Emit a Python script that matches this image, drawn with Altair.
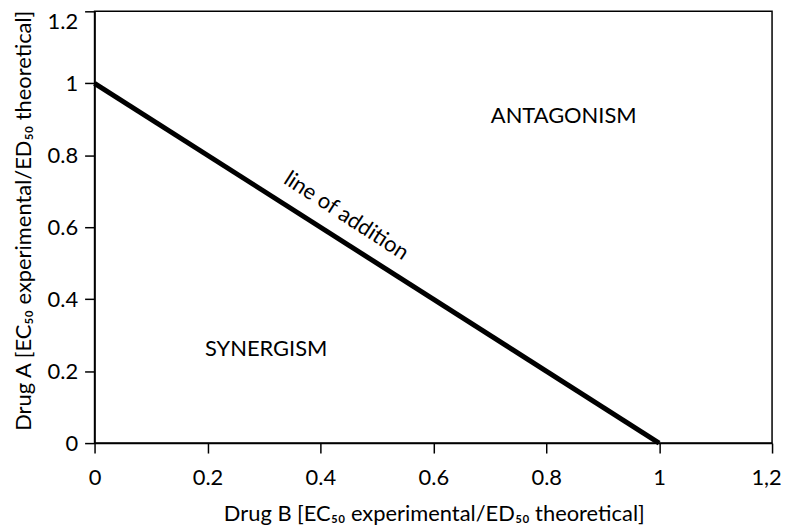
import altair as alt
import pandas as pd

# ---- data ----
line_x = [0.0, 1.0]
line_y = [1.0, 0.0]

region_text = ["ANTAGONISM", "SYNERGISM"]
region_x = [0.831, 0.304]
region_y = [0.910, 0.262]

diag_text = ["line of addition"]
diag_x = [0.446]
diag_y = [0.632]

x_ticks = [0, 0.2, 0.4, 0.6, 0.8, 1.0, 1.2]
y_ticks = [0, 0.2, 0.4, 0.6, 0.8, 1.0, 1.2]

x_title = "Drug B [EC₅₀ experimental/ED₅₀ theoretical]"
y_title = "Drug A [EC₅₀ experimental/ED₅₀ theoretical]"

FONT = "Lato"
FS = 22

line_df = pd.DataFrame({"x": line_x, "y": line_y})
region_df = pd.DataFrame({"t": region_text, "x": region_x, "y": region_y})
diag_df = pd.DataFrame({"t": diag_text, "x": diag_x, "y": diag_y})

xscale = alt.Scale(domain=[0, 1.2], nice=False, zero=False)
yscale = alt.Scale(domain=[0, 1.2], nice=False, zero=False)

xaxis = alt.Axis(
    values=x_ticks,
    labelExpr="datum.value > 1.1 ? '1,2' : format(datum.value, '~g')",
    labelOffset={"condition": {"test": "datum.value > 1.1", "value": -6}, "value": 0},
    labelFlush=False,
    title=x_title,
    titleX=341,
    titleY=71,
    titleAlign="center",
    titleBaseline="middle",
    labelPadding=15,
    grid=False,
)
yaxis = alt.Axis(
    values=y_ticks,
    format="~g",
    labelOffset={"condition": {"test": "datum.value > 1.1", "value": 10}, "value": 0},
    labelFlush=False,
    title=y_title,
    titleX=-71,
    titleY=210,
    titleAngle=-90,
    titleAlign="center",
    titleBaseline="middle",
    labelPadding=7,
    grid=False,
)

line = alt.Chart(line_df).mark_line(color="black", strokeWidth=5, strokeCap="butt").encode(
    x=alt.X("x:Q", scale=xscale, axis=xaxis),
    y=alt.Y("y:Q", scale=yscale, axis=yaxis),
)

regions = alt.Chart(region_df).mark_text(
    font=FONT, fontSize=FS, color="black", align="center", baseline="middle"
).encode(
    x=alt.X("x:Q", scale=xscale),
    y=alt.Y("y:Q", scale=yscale),
    text="t:N",
)

diag = alt.Chart(diag_df).mark_text(
    font=FONT, fontSize=FS, color="black", align="center", baseline="middle", angle=33
).encode(
    x=alt.X("x:Q", scale=xscale),
    y=alt.Y("y:Q", scale=yscale),
    text="t:N",
)

chart = (
    alt.layer(line, regions, diag)
    .properties(
        width=681,
        height=434,
        background="white",
        autosize=alt.AutoSizeParams(type="none"),
        padding={"left": 87, "top": 2, "right": 10, "bottom": 82},
    )
    .configure_view(stroke="black", strokeWidth=1.5)
    .configure_axis(
        domainColor="black",
        domainWidth=1.5,
        tickColor="black",
        tickWidth=1.5,
        tickSize=10,
        labelFont=FONT,
        labelFontSize=FS,
        labelColor="black",
        titleFont=FONT,
        titleFontSize=FS,
        titleFontWeight="normal",
        titleColor="black",
    )
)

chart.save("out.html", embed_options={"renderer": "svg", "actions": False})
